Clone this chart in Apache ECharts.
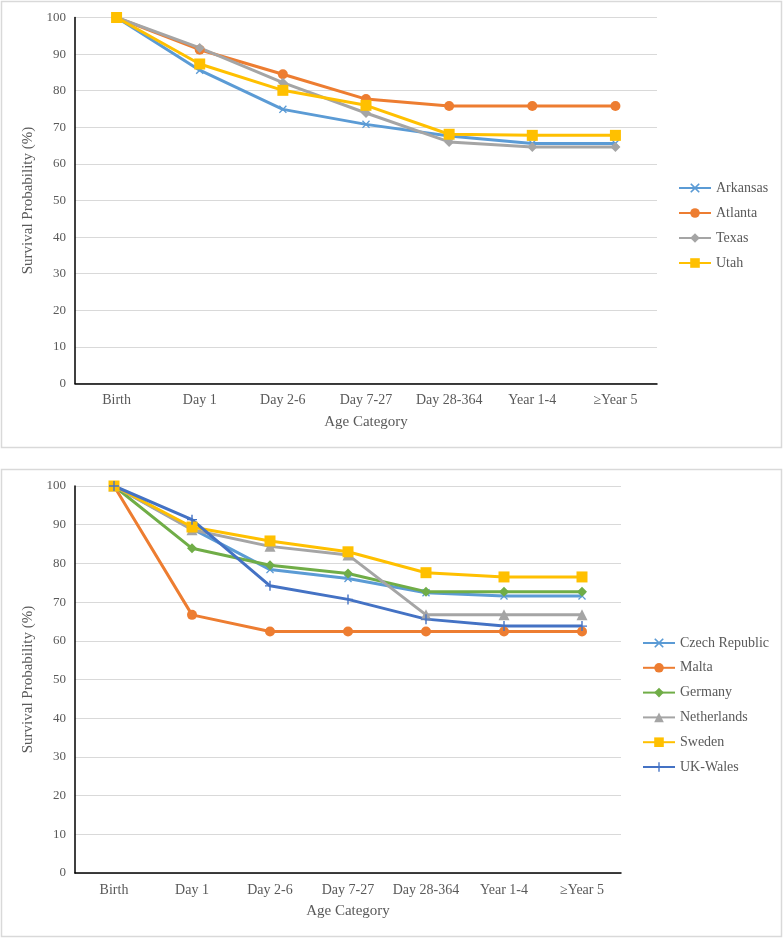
<!DOCTYPE html>
<html><head><meta charset="utf-8">
<script src="https://cdn.jsdelivr.net/npm/echarts@6/dist/echarts.min.js"></script>
<style>html,body{margin:0;padding:0;background:#fff}#c{width:784px;height:939px}</style>
</head><body><div id="c"></div>
<script>
const categories = ['Birth','Day 1','Day 2-6','Day 7-27','Day 28-364','Year 1-4','\u2265Year 5'];
const yTicks = [0,10,20,30,40,50,60,70,80,90,100];

const arkansas = [100, 85.6, 74.9, 70.8, 67.6, 65.6, 65.6];
const atlanta  = [100, 91.2, 84.5, 77.7, 75.8, 75.8, 75.8];
const texas    = [100, 91.7, 82.2, 73.9, 66.0, 64.6, 64.6];
const utah     = [100, 87.3, 80.1, 76.0, 68.1, 67.8, 67.8];

const czech       = [100, 89.0, 78.4, 76.1, 72.4, 71.6, 71.6];
const malta       = [100, 66.7, 62.4, 62.4, 62.4, 62.4, 62.4];
const germany     = [100, 83.9, 79.5, 77.4, 72.7, 72.7, 72.7];
const netherlands = [100, 88.7, 84.4, 82.2, 66.7, 66.7, 66.7];
const sweden      = [100, 89.4, 85.8, 83.0, 77.6, 76.5, 76.5];
const ukWales     = [100, 91.3, 74.2, 70.7, 65.6, 63.8, 63.8];

const FONT = 'Liberation Serif';
const TXT = '#595959';
const SYM_X = 'path://M0,1.2L1.2,0L5,3.8L8.8,0L10,1.2L6.2,5L10,8.8L8.8,10L5,6.2L1.2,10L0,8.8L3.8,5Z';
const SYM_PLUS = 'path://M4.3,0H5.7V4.3H10V5.7H5.7V10H4.3V5.7H0V4.3H4.3Z';

function mkSeries(name, data, color, symbol, size, gi) {
  return {
    name, type: 'line', data, xAxisIndex: gi, yAxisIndex: gi,
    symbol, symbolSize: size, showSymbol: true,
    lineStyle: { color, width: 3 },
    itemStyle: { color, borderColor: color, borderWidth: 0 },
    emphasis: { disabled: true }, animation: false
  };
}

function xAx(gi) {
  return {
    type: 'category', gridIndex: gi, data: categories, boundaryGap: true,
    axisLine: { lineStyle: { color: '#000', width: 1.5 } },
    axisTick: { show: false },
    axisLabel: { color: TXT, fontFamily: FONT, fontSize: 14, margin: 10, interval: 0 },
    name: 'Age Category', nameLocation: 'middle', nameGap: 31,
    nameTextStyle: { color: TXT, fontFamily: FONT, fontSize: 15 }
  };
}
function yAx(gi) {
  return {
    type: 'value', gridIndex: gi, min: yTicks[0], max: yTicks[yTicks.length-1], interval: yTicks[1]-yTicks[0],
    axisLine: { show: true, lineStyle: { color: '#000', width: 1.5 } },
    axisTick: { show: false },
    axisLabel: { color: TXT, fontFamily: FONT, fontSize: 13, margin: 9 },
    splitLine: { lineStyle: { color: '#d9d9d9', width: 1 } },
    name: 'Survival Probability (%)', nameLocation: 'middle', nameGap: 34, nameRotate: 90,
    nameTextStyle: { color: TXT, fontFamily: FONT, fontSize: 15 }
  };
}
const legendText = { color: TXT, fontFamily: FONT, fontSize: 14 };

const chart = echarts.init(document.getElementById('c'), null, { renderer: 'canvas' });
chart.setOption({
  animation: false,
  backgroundColor: '#fff',
  graphic: [
    { type: 'rect', shape: { x: 1.5, y: 1.5, width: 780, height: 446 }, style: { fill: 'none', stroke: '#d9d9d9', lineWidth: 1.5 } },
    { type: 'rect', shape: { x: 1.5, y: 469.5, width: 780, height: 467 }, style: { fill: 'none', stroke: '#d9d9d9', lineWidth: 1.5 } }
  ],
  grid: [
    { left: 75, width: 582, top: 17.5, height: 366 },
    { left: 75, width: 546, top: 486, height: 387 }
  ],
  xAxis: [xAx(0), xAx(1)],
  yAxis: [yAx(0), yAx(1)],
  legend: [
    { orient: 'vertical', left: 673, top: 176, itemWidth: 32, itemHeight: 12, itemGap: 11,
      textStyle: legendText, data: ['Arkansas','Atlanta','Texas','Utah'] },
    { orient: 'vertical', left: 637, top: 631, itemWidth: 32, itemHeight: 12, itemGap: 10.8,
      textStyle: legendText, data: ['Czech Republic','Malta','Germany','Netherlands','Sweden','UK-Wales'] }
  ],
  series: [
    mkSeries('Arkansas', arkansas, '#5B9BD5', SYM_X, 8, 0),
    mkSeries('Atlanta', atlanta, '#ED7D31', 'circle', 10, 0),
    mkSeries('Texas', texas, '#A5A5A5', 'diamond', 10, 0),
    mkSeries('Utah', utah, '#FFC000', 'rect', 11, 0),
    mkSeries('Czech Republic', czech, '#5B9BD5', SYM_X, 8, 1),
    mkSeries('Malta', malta, '#ED7D31', 'circle', 10, 1),
    mkSeries('Germany', germany, '#70AD47', 'diamond', 10, 1),
    mkSeries('Netherlands', netherlands, '#A5A5A5', 'triangle', 11, 1),
    mkSeries('Sweden', sweden, '#FFC000', 'rect', 11, 1),
    mkSeries('UK-Wales', ukWales, '#4472C4', SYM_PLUS, 10, 1)
  ]
});
</script></body></html>
